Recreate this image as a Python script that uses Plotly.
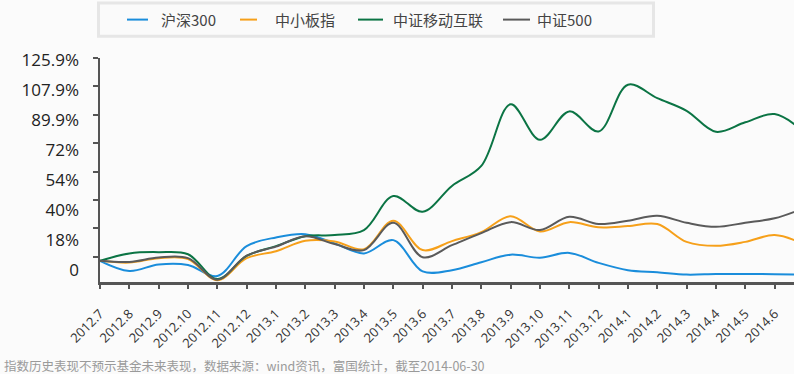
import plotly.graph_objects as go

# ---- data -------------------------------------------------------------
months = ["2012.7", "2012.8", "2012.9", "2012.10", "2012.11", "2012.12",
          "2013.1", "2013.2", "2013.3", "2013.4", "2013.5", "2013.6",
          "2013.7", "2013.8", "2013.9", "2013.10", "2013.11", "2013.12",
          "2014.1", "2014.2", "2014.3", "2014.4", "2014.5", "2014.6",
          "2014.6.30"]
tick_months = months[:24]

hs300 = [-2.5, -8.9, -4.8, -5.1, -12.1, 6.8, 12.3, 14.4, 8.5, 2.2, 10.6, -9.2,
         -8.4, -3.4, 1.4, -0.5, 2.5, -3.8, -8.4, -9.7, -11.2, -10.8, -10.8, -11.0, -11.3]
zxb = [-2.5, -3.6, -0.8, -1.3, -14.8, -0.8, 3.6, 10.2, 9.8, 4.9, 22.9, 4.3,
       10.0, 15.7, 25.8, 16.1, 22.0, 18.7, 19.5, 20.8, 9.5, 7.0, 9.5, 13.8, 8.1]
mobile = [-2.5, 2.2, 3.0, 1.7, -14.0, 0.6, 6.8, 13.1, 13.8, 17.0, 38.5, 28.6,
          44.9, 57.6, 96.6, 74.1, 92.1, 79.4, 109.0, 100.5, 92.5, 79.2, 85.2, 90.4, 79.2]
zz500 = [-2.5, -3.2, -0.4, -0.8, -14.4, 0.8, 6.5, 13.1, 8.1, 4.3, 21.6, -0.2,
         7.4, 15.0, 22.0, 17.0, 25.4, 20.8, 22.9, 26.0, 21.6, 19.0, 21.6, 24.4, 30.9]

series_names = ["沪深300", "中小板指", "中证移动互联", "中证500"]
series_colors = ["#1a8ddb", "#f6a01a", "#0b7444", "#5a5a5a"]

y_step = 125.9 / 7
y_tickvals = [y_step * k for k in range(8)]
y_ticktext = ["0", "18%", "40%", "54%", "72%", "89.9%", "107.9%", "125.9%"]

footnote = "指数历史表现不预示基金未来表现，数据来源：wind资讯，富国统计，截至2014-06-30"

# ---- layout geometry (pixels) -----------------------------------------
W, H = 794, 374
L, T, B = 100, 58.3, 281.7
PW, PH = W - L, B - T


def px_x(p):
    return (p - L) / PW


def px_y(p):
    return (B - p) / PH


# legend placement (pixels): swatch start, swatch end, text start
legend_swatch = [(127, 148), (240, 257), (358, 383), (503, 530)]
legend_text_x = [159, 273, 391, 535]
legend_y = 20

fig = go.Figure()
for name, vals, col in zip(series_names, [hs300, zxb, mobile, zz500], series_colors):
    fig.add_trace(go.Scatter(
        x=months, y=vals, mode="lines", name=name, showlegend=False,
        line=dict(color=col, width=2, shape="spline", smoothing=1.0),
        hoverinfo="x+y+name",
    ))
# empty trace so that the label axis (y2) is drawn
fig.add_trace(go.Scatter(x=[], y=[], yaxis="y2", showlegend=False, hoverinfo="skip"))

bg = "#fbfbfb"
axis_col = "#555555"

shapes = [dict(
    type="rect", xref="paper", yref="paper",
    x0=px_x(98.5), x1=px_x(653.5), y0=px_y(36.5), y1=px_y(3.5),
    line=dict(color="#e6e6e6", width=3), fillcolor="#fafafa", layer="below",
)]
annotations = [dict(
    text=footnote, xref="paper", yref="paper",
    x=px_x(2), y=px_y(364.5), xanchor="left", yanchor="middle", showarrow=False,
    font=dict(family="Noto Sans CJK SC", size=12.5, color="#9a9a9a"),
)]
for name, col, (s0, s1), tx in zip(series_names, series_colors, legend_swatch, legend_text_x):
    shapes.append(dict(type="line", xref="paper", yref="paper",
                       x0=px_x(s0), x1=px_x(s1), y0=px_y(legend_y), y1=px_y(legend_y),
                       line=dict(color=col, width=2)))
    annotations.append(dict(text=name, xref="paper", yref="paper",
                            x=px_x(tx), y=px_y(legend_y), xanchor="left", yanchor="middle",
                            showarrow=False,
                            font=dict(family="Noto Sans CJK SC", size=15, color="#444444")))

fig.update_layout(
    width=W, height=H,
    paper_bgcolor=bg, plot_bgcolor=bg,
    margin=dict(l=L, r=0, t=T, b=H - B, pad=0, autoexpand=False),
    showlegend=False,
    xaxis=dict(
        type="category", categoryorder="array", categoryarray=months,
        range=[0, PW / 29.33],
        tickmode="array", tickvals=tick_months, ticktext=tick_months,
        tickangle=-45,
        tickfont=dict(family="Open Sans", size=13, color="#333333"),
        ticks="outside", ticklen=4, tickwidth=2, tickcolor=axis_col,
        ticklabelstandoff=12,
        showline=True, linewidth=3, linecolor=axis_col,
        showgrid=False, zeroline=False, automargin=False,
    ),
    yaxis=dict(
        range=[-15.9, 125.9],
        tickmode="array", tickvals=y_tickvals, showticklabels=False,
        ticks="outside", ticklen=5, tickwidth=2, tickcolor=axis_col,
        showline=True, linewidth=2, linecolor=axis_col,
        showgrid=False, zeroline=False, automargin=False,
    ),
    yaxis2=dict(
        overlaying="y", anchor="x", side="left",
        range=[-0.39, 7.057],
        tickmode="array", tickvals=list(range(8)), ticktext=y_ticktext,
        tickfont=dict(family="Open Sans", size=17, color="#222222"),
        ticks="", showline=False, showgrid=False, zeroline=False,
        ticklabelstandoff=20, automargin=False,
    ),
    shapes=shapes,
    annotations=annotations,
)

fig.write_html("out.html", config={"displayModeBar": False},
               post_script="document.body.style.margin='0';")
